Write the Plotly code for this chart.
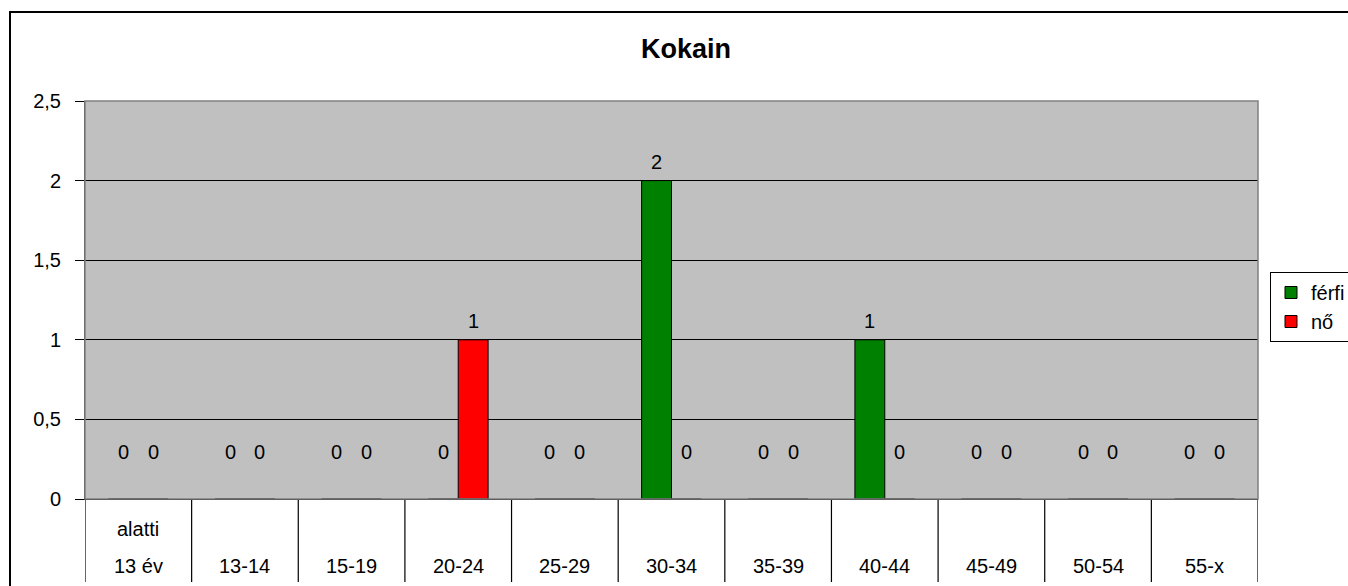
import plotly.graph_objects as go

# data
categories = ["alatti<br>13 év", "13-14", "15-19", "20-24", "25-29", "30-34",
              "35-39", "40-44", "45-49", "50-54", "55-x"]
ferfi = [0, 0, 0, 0, 0, 2, 0, 1, 0, 0, 0]
no = [0, 0, 0, 1, 0, 0, 0, 0, 0, 0, 0]
y_ticks = [0, 0.5, 1, 1.5, 2, 2.5]

W, H = 1348, 586
ML, MR, MT, MB = 85, 90, 101, 87
pw, ph = W - ML - MR, H - MT - MB

font = "Liberation Sans, Arial, sans-serif"
fs = 20
idx = list(range(len(categories)))
half = 0.14

fig = go.Figure()
fig.add_trace(go.Bar(name="férfi", x=[i - half for i in idx], y=ferfi, width=0.28,
                     marker=dict(color="#008000", line=dict(color="black", width=1))))
fig.add_trace(go.Bar(name="nő", x=[i + half for i in idx], y=no, width=0.28,
                     marker=dict(color="#FF0000", line=dict(color="black", width=1))))

annotations = []
# data labels
for series, off in ((ferfi, -half), (no, half)):
    for i, v in zip(idx, series):
        annotations.append(dict(x=i + off, y=v, xref="x", yref="y", text=str(v),
                                showarrow=False, yanchor="middle",
                                yshift=47 if v == 0 else 19,
                                font=dict(size=fs, color="black", family=font)))

# category labels, bottom-aligned lines
for i, lab in zip(idx, categories):
    lines = lab.split("<br>")[::-1]
    for k, line in enumerate(lines):
        annotations.append(dict(x=i, y=0, xref="x", yref="paper", text=line,
                                showarrow=False, yanchor="middle", yshift=-67 + 37 * k,
                                font=dict(size=fs, color="black", family=font)))

annotations.append(dict(x=(686 - ML) / pw, y=(H - MB - 49) / ph, xref="paper", yref="paper",
                        text="<b>Kokain</b>", showarrow=False, yanchor="middle",
                        font=dict(size=27, color="black", family=font)))

shapes = []
# separators below the axis
for b in [i - 0.5 for i in idx] + [idx[-1] + 0.5]:
    shapes.append(dict(type="line", xref="x", yref="paper", x0=b, x1=b,
                       y0=0, y1=-83 / ph, line=dict(color="black", width=1.2)))
# plot area border
shapes.append(dict(type="rect", xref="paper", yref="paper", x0=0, x1=1, y0=0, y1=1,
                   line=dict(color="#808080", width=1.5), layer="above"))
# outer chart border
shapes.append(dict(type="rect", xref="paper", yref="paper",
                   x0=(10 - ML) / pw, x1=(W + 20 - ML) / pw,
                   y0=-(MB + 20) / ph, y1=(H - MB - 12) / ph,
                   line=dict(color="black", width=2)))

fig.update_layout(
    width=W, height=H,
    margin=dict(l=ML, r=MR, t=MT, b=MB, autoexpand=False),
    paper_bgcolor="white", plot_bgcolor="#C0C0C0",
    separators=", ",
    barmode="overlay",
    font=dict(family=font, size=fs, color="black"),
    showlegend=True,
    legend=dict(x=(1270 - ML) / pw, y=(H - MB - 272) / ph, xanchor="left", yanchor="top",
                bordercolor="black", borderwidth=1, bgcolor="white",
                font=dict(size=fs, family=font), itemwidth=30, tracegroupgap=0),
    xaxis=dict(range=[-0.5, len(categories) - 0.5], showticklabels=False, showgrid=False,
               zeroline=False, showline=True, linecolor="black", linewidth=1.2),
    yaxis=dict(range=[0, 2.5], tickvals=y_ticks, ticks="outside", ticklen=9,
               tickcolor="black", showgrid=True, gridcolor="black", gridwidth=1,
               zeroline=False, showline=True, linecolor="#404040",
               tickfont=dict(size=fs, family=font), ticklabelstandoff=10),
    annotations=annotations,
    shapes=shapes,
)

fig.write_html("out.html", config={"displayModeBar": False},
               post_script="document.body.style.margin='0';")
